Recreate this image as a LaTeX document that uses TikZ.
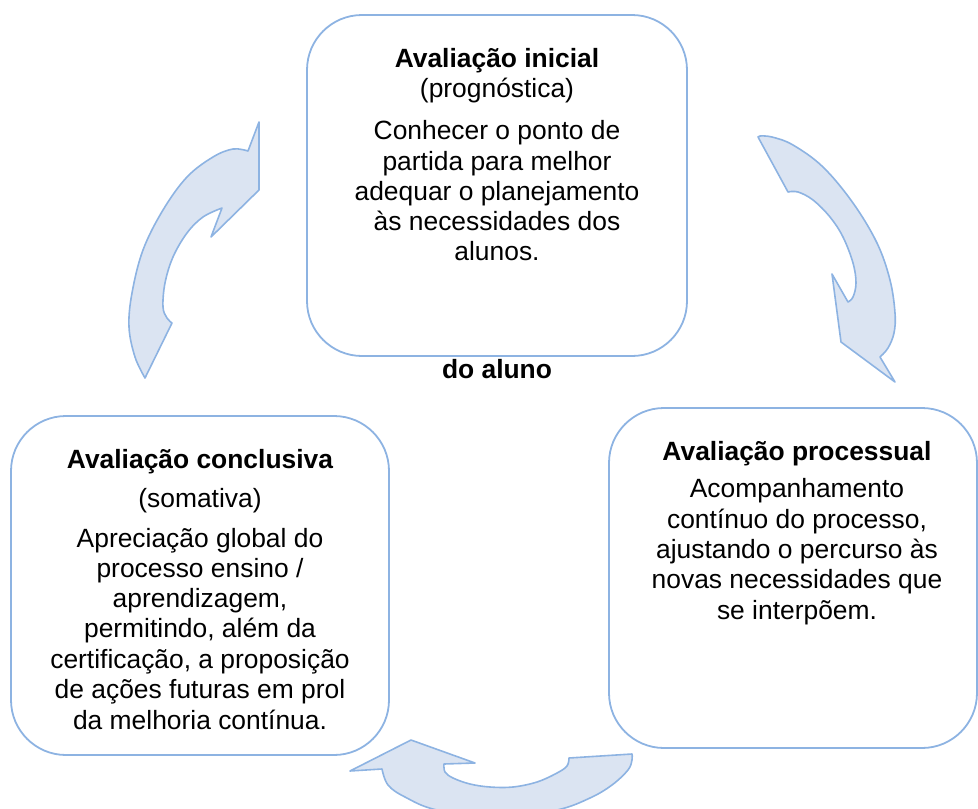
\documentclass[tikz,border=0pt]{standalone}
\usepackage{fontspec}
\setmainfont{Liberation Sans}
\begin{document}
\begin{tikzpicture}[x=1pt,y=-1pt,
  boxline/.style={draw=edgeblue,line width=1.8pt,rounded corners=55pt},
  arrowshape/.style={draw=edgeblue,fill=fillblue,line width=1.6pt,line join=round},
  txt/.style={anchor=base,inner sep=0pt,font=\fontsize{26.4pt}{30.4pt}\selectfont},
  ttl/.style={txt,font=\fontsize{26.4pt}{30.4pt}\selectfont\bfseries}]
\definecolor{edgeblue}{HTML}{8DB3E2}
\definecolor{fillblue}{HTML}{DBE4F2}
\useasboundingbox (0,0) rectangle (978,809);
\clip (0,0) rectangle (978,809);
% boxes
\draw[boxline] (307,15) rectangle (687,356);
\draw[boxline] (11,416) rectangle (389,755);
\draw[boxline] (609,408) rectangle (977,748);
% left arrow (up)
\filldraw[arrowshape] (259,122) -- (259,190) -- (211,237) -- (222,208)
  -- plot[smooth,tension=0.6] coordinates {(222,208) (203,217) (187,233) (173,257) (165,283) (163,307) (167,318) (172,323)}
  -- (145,378)
  -- plot[smooth,tension=0.6] coordinates {(145,378) (135,357) (129,327) (132,293) (143,250) (163,210) (187,177) (213,157) (233,149) (248,151)}
  -- cycle;
% right arrow (down)
\filldraw[arrowshape] (758,137) -- (788,192)
  -- plot[smooth,tension=0.6] coordinates {(788,192) (798,192) (813,200) (830,217) (843,237) (853,263) (856,283) (853,297) (848,302)}
  -- (832,274) -- (841,342) -- (895,382) -- (880,357)
  -- plot[smooth,tension=0.6] coordinates {(880,357) (888,348) (894,333) (895,313) (890,280) (877,243) (853,203) (823,167) (793,145) (772,137) (760,136)}
  -- cycle;
% bottom arrow (left)
\filldraw[arrowshape] (350,771) -- (411,740) -- (475,763) -- (444,764)
  -- plot[smooth,tension=0.6] coordinates {(444,764) (445,772) (453,778) (470,784) (490,787) (513,787) (537,782) (557,773) (567,766) (569,758)}
  -- (632,754)
  -- plot[smooth,tension=0.6] coordinates {(632,754) (632,760) (628,770) (612,785) (590,798) (557,810) (500,818) (437,810) (405,797) (388,785) (382,769)}
  -- cycle;
% top box text
\node[ttl] (t1) at (497,67) {Avaliação inicial};
\node[txt] (t2) at (497,97) {(prognóstica)};
\node[txt] (t3) at (497,139) {Conhecer o ponto de};
\node[txt] (t4) at (497,170) {partida para melhor};
\node[txt] (t5) at (497,200) {adequar o planejamento};
\node[txt] (t6) at (497,230) {às necessidades dos};
\node[txt] (t7) at (497,260) {alunos.};
\node[ttl] (da) at (497,378) {do aluno};
% right box text
\node[ttl] (r1) at (797,460) {Avaliação processual};
\node[txt] (r2) at (797,497) {Acompanhamento};
\node[txt] (r3) at (797,528) {contínuo do processo,};
\node[txt] (r4) at (797,558) {ajustando o percurso às};
\node[txt] (r5) at (797,588) {novas necessidades que};
\node[txt] (r6) at (797,619) {se interpõem.};
% left box text
\node[ttl] (l1) at (200,468) {Avaliação conclusiva};
\node[txt] (l2) at (200,507) {(somativa)};
\node[txt] (l3) at (200,547) {Apreciação global do};
\node[txt] (l4) at (200,577) {processo ensino /};
\node[txt] (l5) at (200,607) {aprendizagem,};
\node[txt] (l6) at (200,637) {permitindo, além da};
\node[txt] (l7) at (200,668) {certificação, a proposição};
\node[txt] (l8) at (200,698) {de ações futuras em prol};
\node[txt] (l9) at (200,729) {da melhoria contínua.};
\end{tikzpicture}
\end{document}
